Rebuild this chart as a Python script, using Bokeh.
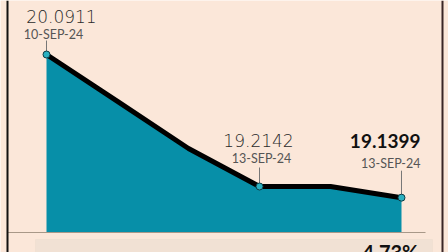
from bokeh.plotting import figure
from bokeh.models import Label, Span, BoxAnnotation
from bokeh.embed import file_html
from bokeh.resources import INLINE

# Data
idx = [0, 1, 2, 3, 4, 5]
nav = [20.0911, 19.78, 19.4665, 19.2142, 19.2142, 19.1399]
marked = [0, 3, 5]
dates = ["10-SEP-24", "13-SEP-24", "13-SEP-24"]
value_labels = ["20.0911", "19.2142", "19.1399"]
pct_change = (nav[-1] - nav[0]) / nav[0] * 100
pct_label = f"{pct_change:.2f}%"

BG = "#fbe7d9"
TEAL = "#078fa8"
THIN = "DejaVu Sans Light, Lato, sans-serif"

X0, X1 = -0.648, 5.662
Y0, Y1 = 18.7757, 20.450
W, H = 448, 252
ppx = W / (X1 - X0)
ppy = H / (Y1 - Y0)
base = 18.9086

def dx(px):
    return px / ppx

def dy(px):
    return px / ppy

p = figure(width=W, height=H, x_range=(X0, X1), y_range=(Y0, Y1),
           output_backend="svg", toolbar_location=None, min_border=0)
p.axis.visible = False
p.grid.visible = False
p.outline_line_color = None
p.background_fill_color = BG
p.border_fill_color = BG

# bottom box
p.add_layout(BoxAnnotation(left=-0.155, right=X1 - dx(16), bottom=Y0 - 1, top=base - dy(7),
                           fill_color="#f1e1d4", fill_alpha=1, line_color="#e6d6c9", line_width=1))

# area & line
p.varea(x=idx, y1=[base] * len(idx), y2=nav, fill_color=TEAL)
p.line(idx, nav, line_color="black", line_width=5, line_join="round")

# baseline
p.segment(x0=[X0 + dx(7)], y0=[base], x1=[X1 - dx(23)], y1=[base], line_color="#a89888", line_width=1.2)

# connectors
gaps = [14, 19, 27]
p.segment(x0=[idx[i] for i in marked], y0=[nav[i] for i in marked],
          x1=[idx[i] for i in marked], y1=[nav[i] + dy(g) for i, g in zip(marked, gaps)],
          line_color="#777777", line_width=1)

p.scatter([idx[i] for i in marked], [nav[i] for i in marked], size=7,
          fill_color="#2ab0c0", line_color="#0b3b44", line_width=1)

# labels: (value x-off, date x-off, value y-off, date y-off, align, bold)
cfg = [
    (15, 7, 32, 13, "center", False),
    (-1, 2, 40, 21, "center", False),
    (19, 19, 50, 27, "right", True),
]
for k, i in enumerate(marked):
    vxo, dxo, vy, dyo, al, bold = cfg[k]
    p.add_layout(Label(x=idx[i] + dx(vxo), y=nav[i] + dy(vy), text=value_labels[k], text_align=al,
                       text_font="Lato" if bold else THIN, text_font_size="19px" if bold else "17px",
                       text_font_style="bold" if bold else "normal",
                       text_color="#111111" if bold else "#2a2a2a"))
    p.add_layout(Label(x=idx[i] + dx(dxo), y=nav[i] + dy(dyo), text=dates[k], text_align=al,
                       text_font="Lato", text_font_size="12.5px", text_color="#555555"))

# side rules
p.add_layout(Span(location=X0 + dx(7), dimension="height", line_color="#111111", line_width=2))
p.add_layout(Span(location=X0 + dx(442), dimension="height", line_color="#3a2626", line_width=2))

# bottom tick and percentage
p.segment(x0=[-0.01], y0=[base - dy(12)], x1=[-0.01], y1=[Y0], line_color="#777777", line_width=1)
p.add_layout(Label(x=5 + dx(17), y=Y0 - dy(11), text=pct_label, text_align="right",
                   text_font="Lato", text_font_size="20px", text_font_style="bold",
                   text_color="#111111"))

open("out.html", "w").write(file_html(p, INLINE))
